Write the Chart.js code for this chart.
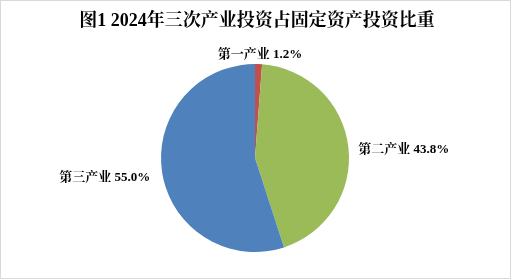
<!DOCTYPE html>
<html lang="zh">
  <head>
    <meta charset="UTF-8" />
    <script src="https://cdn.jsdelivr.net/npm/chart.js"></script>
    <title>三次产业投资占比</title>
    <style>
      body {
        margin: 0;
        background: #ffffff;
      }
      canvas {
        display: block;
      }
    </style>
  </head>
  <body>
    <canvas id="myChart" width="512" height="280"></canvas>
    <script>
      const titleText = "图1 2024年三次产业投资占固定资产投资比重";
      const categories = ["第一产业", "第二产业", "第三产业"];
      const shares = [1.2, 43.8, 55.0];
      const sliceColors = ["#C0504D", "#9BBB59", "#4F81BD"];

      const cjkFont = "'Liberation Serif', 'Noto Serif CJK SC', 'Noto Sans CJK SC', serif";

      // frame, title and outside labels
      const decor = {
        id: "decor",
        beforeDraw(chart) {
          const ctx = chart.ctx;
          ctx.save();
          ctx.fillStyle = "#ffffff";
          ctx.fillRect(0, 0, chart.width, chart.height);
          ctx.strokeStyle = "#d9d9d9";
          ctx.lineWidth = 1;
          ctx.strokeRect(0.5, 0.5, chart.width - 2, chart.height - 2);
          ctx.restore();
        },
        afterDraw(chart) {
          const ctx = chart.ctx;
          ctx.save();
          ctx.fillStyle = "#000000";
          ctx.font = "bold 18px " + cjkFont;
          ctx.textAlign = "center";
          ctx.textBaseline = "middle";
          ctx.fillText(titleText, 257, 21);

          ctx.font = "bold 13px " + cjkFont;
          chart.getDatasetMeta(0).data.forEach((arc, i) => {
            const p = arc.getProps(["x", "y", "startAngle", "endAngle", "outerRadius"], true);
            const mid = (p.startAngle + p.endAngle) / 2;
            const r = p.outerRadius + 9;
            const x = p.x + Math.cos(mid) * r;
            const y = p.y + Math.sin(mid) * r + 4;
            const text = categories[i] + " " + shares[i].toFixed(1) + "%";
            if (Math.abs(Math.cos(mid)) < 0.3) {
              ctx.textAlign = "center";
              ctx.textBaseline = "bottom";
              ctx.fillText(text, x + 1, y + 2);
            } else {
              ctx.textAlign = Math.cos(mid) > 0 ? "left" : "right";
              ctx.textBaseline = "middle";
              ctx.fillText(text, x + (Math.cos(mid) > 0 ? 1 : -3), y);
            }
          });
          ctx.restore();
        },
      };

      new Chart(document.getElementById("myChart"), {
        type: "pie",
        data: {
          labels: categories,
          datasets: [
            {
              data: shares,
              backgroundColor: sliceColors,
              borderWidth: 0,
            },
          ],
        },
        options: {
          responsive: false,
          animation: false,
          layout: {
            padding: { top: 64, bottom: 28, left: 161, right: 163 },
          },
          plugins: {
            legend: { display: false },
            tooltip: { enabled: false },
            title: { display: false },
          },
        },
        plugins: [decor],
      });
    </script>
  </body>
</html>
